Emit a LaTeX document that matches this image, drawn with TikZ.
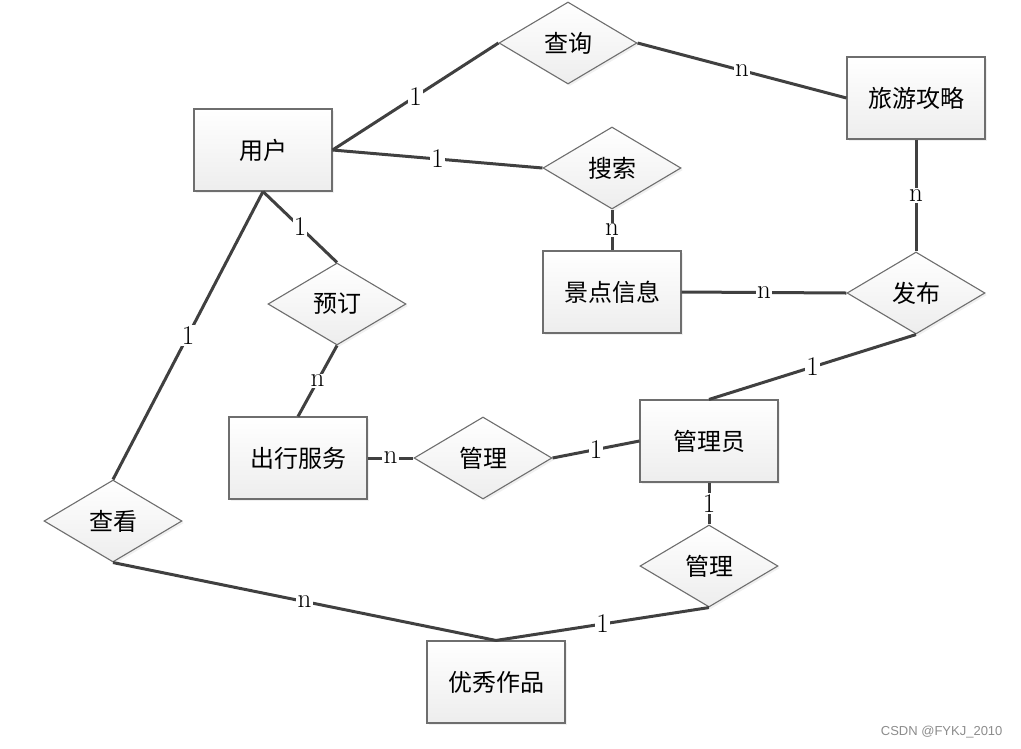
\documentclass[tikz,border=0pt]{standalone}
\usepackage{fontspec}
\newfontfamily\cjk{Noto Sans CJK SC}
\newfontfamily\wmfont{Liberation Sans}
\usetikzlibrary{shapes.geometric,shadows}
\definecolor{edgecol}{HTML}{404040}
\definecolor{bordercol}{HTML}{6E6E6E}
\tikzset{
  base/.style={draw=bordercol, line width=1.1pt, top color=white, bottom color=black!7,
    drop shadow={opacity=0.12, shadow xshift=2pt, shadow yshift=-2pt},
    font=\cjk\fontsize{24}{26}\selectfont, inner sep=0pt},
  entity/.style={base, rectangle, minimum width=138pt, minimum height=82pt},
  rel/.style={base, diamond, minimum width=138pt, minimum height=82pt},
  conn/.style={draw=edgecol, line width=3pt},
  card/.style={fill=white, inner sep=1.2pt, font=\fontsize{27}{27}\selectfont, text=black},
}
\begin{document}
\begin{tikzpicture}[x=1pt,y=-1pt]
\useasboundingbox (0,0) rectangle (1021,748);
% entities
\node[entity] (yonghu) at (263,150) {用户};
\node[entity] (gonglue) at (916,98) {旅游攻略};
\node[entity] (jingdian) at (612,292) {景点信息};
\node[entity] (chuxing) at (298,458) {出行服务};
\node[entity] (admin) at (709,441) {管理员};
\node[entity] (zuopin) at (496,682) {优秀作品};
% relationships
\node[rel] (chaxun) at (568,43) {查询};
\node[rel] (sousuo) at (612,168) {搜索};
\node[rel] (yuding) at (337,304) {预订};
\node[rel] (fabu) at (916,293) {发布};
\node[rel] (guanli1) at (483,458) {管理};
\node[rel] (chakan) at (113,521) {查看};
\node[rel] (guanli2) at (709,566) {管理};
% connectors
\draw[conn] (yonghu.east) -- node[card]{1} (chaxun.west);
\draw[conn] (chaxun.east) -- node[card]{n} (gonglue.west);
\draw[conn] (yonghu.east) -- node[card]{1} (sousuo.west);
\draw[conn] (sousuo.south) -- node[card]{n} (jingdian.north);
\draw[conn] (gonglue.south) -- node[card]{n} (fabu.north);
\draw[conn] (jingdian.east) -- node[card]{n} (fabu.west);
\draw[conn] (fabu.south) -- node[card]{1} (admin.north);
\draw[conn] (yonghu.south) -- node[card]{1} (yuding.north);
\draw[conn] (yuding.south) -- node[card]{n} (chuxing.north);
\draw[conn] (yonghu.south) -- node[card]{1} (chakan.north);
\draw[conn] (chuxing.east) -- node[card]{n} (guanli1.west);
\draw[conn] (guanli1.east) -- node[card]{1} (admin.west);
\draw[conn] (admin.south) -- node[card]{1} (guanli2.north);
\draw[conn] (chakan.south) -- node[card]{n} (zuopin.north);
\draw[conn] (guanli2.south) -- node[card]{1} (zuopin.north);
% watermark
\node[font=\wmfont\fontsize{13}{13}\selectfont, text=black!45, anchor=east] (wm) at (1006,732) {CSDN @FYKJ\_2010};
\end{tikzpicture}
\end{document}
